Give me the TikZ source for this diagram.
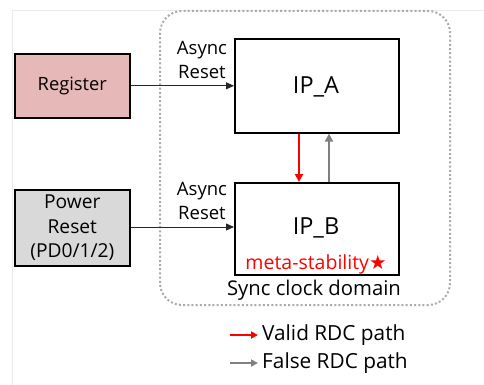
\documentclass[tikz,border=0pt]{standalone}
\usepackage{fontspec}
\setmainfont{Open Sans}
\usetikzlibrary{arrows.meta}
\definecolor{regfill}{HTML}{E6B8B7}
\definecolor{pwrfill}{HTML}{D9D9D9}
\definecolor{falsegray}{HTML}{808080}
\definecolor{framegray}{HTML}{EBEBEB}
\definecolor{dotgray}{HTML}{AAAAAA}
\begin{document}
\begin{tikzpicture}[x=1pt,y=-1pt,
  blk/.style={draw=black, line width=1.6pt, inner sep=0pt, anchor=north west},
  lbl/.style={font=\fontsize{18.5}{23.5}\selectfont, align=center, inner sep=0pt},
  rst/.style={draw=black!85, line width=0.8pt, -{Triangle[length=8pt,width=7pt]}},
  valid/.style={draw=red, line width=2.2pt, -{Triangle[length=8pt,width=8pt]}},
  falsep/.style={draw=falsegray, line width=2.2pt, -{Triangle[length=8pt,width=8pt]}}]
  \useasboundingbox (0,0) rectangle (484,385);
  % faint page frame
  \draw[framegray, line width=0.8pt] (12,385) -- (12,10) -- (484,10);
  % clock domain boundary
  \draw[dotgray, line width=2pt, dash pattern=on 2pt off 2.2pt, rounded corners=22pt] (160,11) rectangle (450,305);
  % blocks
  \node[blk, fill=regfill, minimum width=115pt, minimum height=64pt] (reg) at (14,53) {};
  \node[font=\fontsize{18.3}{22}\selectfont] at (reg.center) {Register};
  \node[blk, fill=pwrfill, minimum width=115pt, minimum height=76pt] (pwr) at (14,189) {};
  \node[lbl, font=\fontsize{19.2}{24.5}\selectfont] at (pwr.center) {Power\\Reset\\(PD0/1/2)};
  \node[blk, minimum width=164pt, minimum height=94pt] (ipa) at (234,38) {};
  \node[font=\fontsize{23.5}{30}\selectfont] at (316,87) {IP\_A};
  \node[blk, minimum width=164pt, minimum height=92pt] (ipb) at (234,182) {};
  \node[font=\fontsize{23.5}{30}\selectfont] at (316,228) {IP\_B};
  \node[text=red, font=\fontsize{19.5}{22}\selectfont, inner sep=0pt] (meta) at (316,264) {meta-stability\fontspec{DejaVu Sans}★};
  \node[font=\fontsize{20.3}{24}\selectfont, inner sep=0pt] (dom) at (314,290) {Sync clock domain};
  % reset labels
  \node[lbl] (ra) at (202,60) {Async\\Reset};
  \node[lbl] (rb) at (202,201) {Async\\Reset};
  % reset connectors
  \draw[rst] (reg.east) -- (ipa.west |- reg.east);
  \draw[rst] (pwr.east |- 0,227) -- (ipb.west |- 0,227);
  % crossing paths
  \draw[valid] (ipa.south -| 299,0) -- (ipb.north -| 299,0);
  \draw[falsep] (ipb.north -| 329,0) -- (ipa.south -| 329,0);
  % legend
  \coordinate (l1a) at (230,335); \coordinate (l1b) at (258,335);
  \coordinate (l2a) at (230,363); \coordinate (l2b) at (258,363);
  \draw[valid, -{Triangle[length=7pt,width=7pt]}] (l1a) -- (l1b);
  \draw[falsep, -{Triangle[length=7pt,width=7pt]}] (l2a) -- (l2b);
  \node[anchor=west, font=\fontsize{20.8}{24}\selectfont, inner sep=0pt] (t1) at (262,335) {Valid RDC path};
  \node[anchor=west, font=\fontsize{20.8}{24}\selectfont, inner sep=0pt] (t2) at (262,363) {False RDC path};
\end{tikzpicture}
\end{document}
